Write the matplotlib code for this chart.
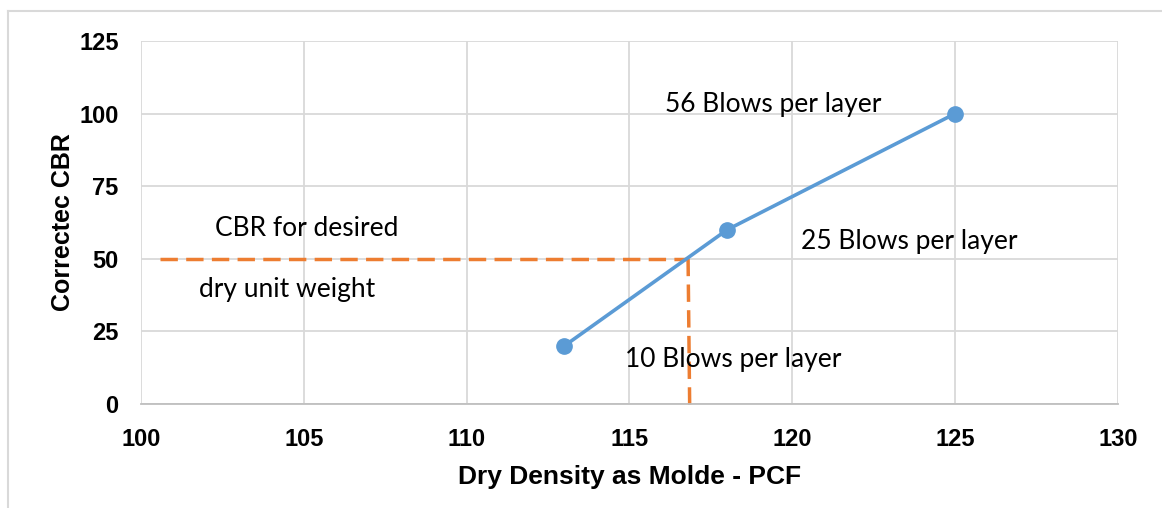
import matplotlib.pyplot as plt
from matplotlib.lines import Line2D

# data
density = [113, 118, 125]
cbr = [20, 60, 100]
desired_density = 116.8
desired_cbr = 50
x_ticks = [100, 105, 110, 115, 120, 125, 130]
y_ticks = [0, 25, 50, 75, 100, 125]
notes = ["56 Blows per layer", "25 Blows per layer", "10 Blows per layer",
         "CBR for desired", "dry unit weight"]
note_x = [119.4, 123.6, 118.2, 105.1, 104.5]
note_y = [103, 55.8, 15.2, 60.6, 39.6]

fig = plt.figure(figsize=(11.62, 5.08), dpi=100)
ax = fig.add_axes([0.1213, 0.2047, 0.8408, 0.7146])

# frame around the chart area (left and top edges visible)
fig.add_artist(Line2D([0.0069, 0.0069], [0, 0.978], color="#d9d9d9", lw=1.5))
fig.add_artist(Line2D([0.0069, 1], [0.978, 0.978], color="#d9d9d9", lw=1.5))

ax.plot(density, cbr, color="#5B9BD5", lw=2.6, marker="o", markersize=11, zorder=3)

# dashed guide lines for the desired density
ax.plot([100.6, desired_density], [desired_cbr, desired_cbr], color="#ED7D31",
        lw=2.5, dashes=(5, 2.4), zorder=2)
ax.plot([desired_density, desired_density + 0.05], [desired_cbr, -1.5], color="#ED7D31",
        lw=2.5, dashes=(5, 2.4), zorder=2, clip_on=False)

for t, x, y in zip(notes, note_x, note_y):
    ax.text(x, y, t, ha="center", va="center", fontsize=19, family="Lato")

ax.set_xlim(100, 130)
ax.set_ylim(0, 125)
ax.set_xticks(x_ticks)
ax.set_yticks(y_ticks)
ax.grid(True, color="#d9d9d9", lw=1.3)
ax.set_axisbelow(True)
for s in ["left", "right", "top"]:
    ax.spines[s].set_visible(False)
ax.spines["bottom"].set_color("#bfbfbf")
ax.spines["bottom"].set_linewidth(1.3)
ax.tick_params(length=0, labelsize=17)
ax.tick_params(axis="x", pad=17)
ax.tick_params(axis="y", pad=16)
for lab in ax.get_xticklabels() + ax.get_yticklabels():
    lab.set_fontweight("bold")
    lab.set_family("Liberation Sans")

ax.set_xlabel("Dry Density as Molde - PCF", fontsize=19, fontweight="bold",
              family="Liberation Sans", labelpad=10)
ax.set_ylabel("Correctec CBR", fontsize=18, fontweight="bold",
              family="Liberation Sans", labelpad=3)

fig.savefig("out.png", dpi=100)
